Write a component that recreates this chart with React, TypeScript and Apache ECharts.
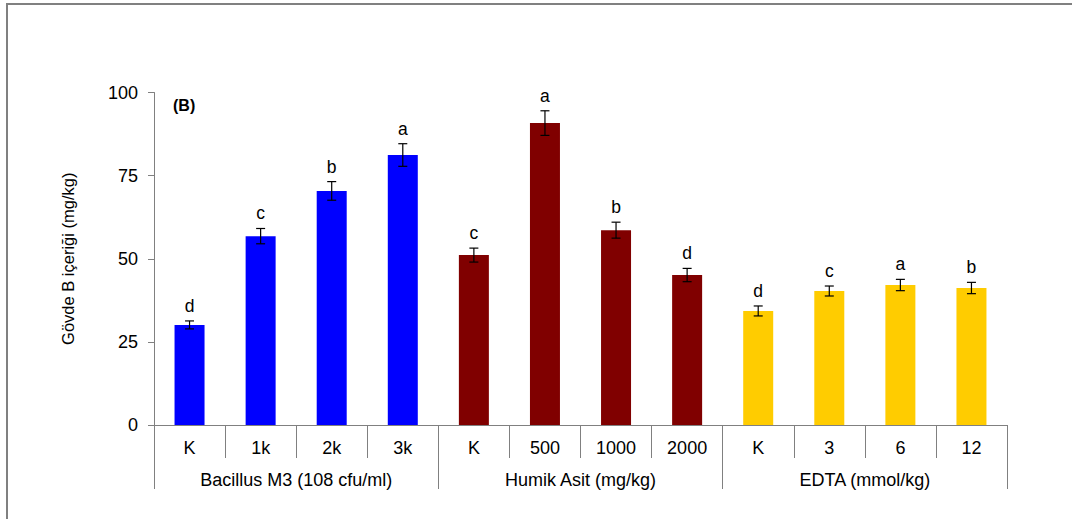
import React, { useEffect, useRef } from "react";
import * as echarts from "echarts";

const categories = ["K", "1k", "2k", "3k", "K", "500", "1000", "2000", "K", "3", "6", "12"];
const groups = ["Bacillus M3 (108 cfu/ml)", "Humik Asit (mg/kg)", "EDTA (mmol/kg)"];
const groupOfBar = [0, 0, 0, 0, 1, 1, 1, 1, 2, 2, 2, 2];
const groupColors = ["#0000FF", "#800000", "#FFCC00"];
const values = [30.1, 56.8, 70.4, 81.2, 51.1, 90.8, 58.6, 45.1, 34.3, 40.3, 42.1, 41.2];
const errors = [1.2, 2.3, 2.8, 3.4, 2.1, 3.7, 2.4, 2.0, 1.5, 1.5, 1.7, 1.7];
const letters = ["d", "c", "b", "a", "c", "a", "b", "d", "d", "c", "a", "b"];
const yTicks = [0, 25, 50, 75, 100];

const FONT = "'Liberation Sans', Arial, sans-serif";
const GREY = "#808080";

export default function App() {
  const ref = useRef<HTMLDivElement>(null);
  useEffect(() => {
    if (!ref.current) return;
    const chart = echarts.init(ref.current, undefined, { renderer: "svg" });
    const option: any = {
      animation: false,
      backgroundColor: "#ffffff",
      textStyle: { fontFamily: FONT },
      grid: { left: 154, right: 65, top: 92.5, bottom: 94, containLabel: false },
      xAxis: [
        {
          type: "category",
          data: categories,
          position: "bottom",
          offset: 0,
          axisLine: { show: true, lineStyle: { color: GREY, width: 1 } },
          axisTick: { show: true, interval: 0, length: 33, lineStyle: { color: GREY } },
          axisLabel: { interval: 0, margin: 14, color: "#000", fontSize: 18, fontFamily: FONT },
          splitLine: { show: false },
        },
        {
          type: "category",
          data: groups,
          position: "bottom",
          offset: 0,
          axisLine: { show: false },
          axisTick: { show: true, interval: 0, length: 64, lineStyle: { color: GREY } },
          axisLabel: { interval: 0, margin: 46, color: "#000", fontSize: 18, fontFamily: FONT },
          splitLine: { show: false },
        },
      ],
      yAxis: {
        type: "value",
        min: yTicks[0],
        max: yTicks[yTicks.length - 1],
        interval: 25,
        name: "Gövde B içeriği (mg/kg)",
        nameLocation: "middle",
        nameGap: 78,
        nameRotate: 90,
        nameTextStyle: { color: "#000", fontSize: 16.5, fontFamily: FONT },
        axisLine: { show: true, lineStyle: { color: GREY, width: 1 } },
        axisTick: { show: true, length: 6, inside: false, lineStyle: { color: GREY } },
        axisLabel: { color: "#000", fontSize: 18, margin: 16, fontFamily: FONT },
        splitLine: { show: false },
      },
      graphic: [
        {
          type: "rect",
          shape: { x: 7, y: 4, width: 1200, height: 700 },
          style: { fill: "none", stroke: GREY, lineWidth: 2 },
          silent: true,
          z: 100,
        },
        {
          type: "text",
          left: 173,
          top: 97,
          style: { text: "(B)", font: `bold 16px ${FONT}`, fill: "#000" },
        },
      ],
      series: [
        {
          type: "bar",
          xAxisIndex: 0,
          barWidth: 30,
          data: values.map((v, i) => ({
            value: v,
            itemStyle: { color: groupColors[groupOfBar[i]] },
          })),
        },
        {
          type: "custom",
          xAxisIndex: 0,
          z: 10,
          data: values.map((v, i) => [i, v, errors[i]]),
          renderItem: (params: any, api: any) => {
            const i = api.value(0);
            const v = api.value(1);
            const e = api.value(2);
            const top = api.coord([i, v + e]);
            const bot = api.coord([i, v - e]);
            const x = top[0];
            const hw = 4.5;
            const st = { stroke: "#000", lineWidth: 1.2 };
            return {
              type: "group",
              children: [
                { type: "line", shape: { x1: x, y1: top[1], x2: x, y2: bot[1] }, style: st },
                { type: "line", shape: { x1: x - hw, y1: top[1], x2: x + hw, y2: top[1] }, style: st },
                { type: "line", shape: { x1: x - hw, y1: bot[1], x2: x + hw, y2: bot[1] }, style: st },
                {
                  type: "text",
                  x: x,
                  y: top[1] - 6,
                  style: {
                    text: letters[params.dataIndex],
                    font: `17.5px ${FONT}`,
                    fill: "#000",
                    align: "center",
                    verticalAlign: "bottom",
                  },
                },
              ],
            };
          },
        },
      ],
    };
    chart.setOption(option);
    return () => chart.dispose();
  }, []);
  return (
    <div
      ref={ref}
      style={{ position: "fixed", left: 0, top: 0, width: 1072, height: 519, background: "#fff" }}
    />
  );
}
